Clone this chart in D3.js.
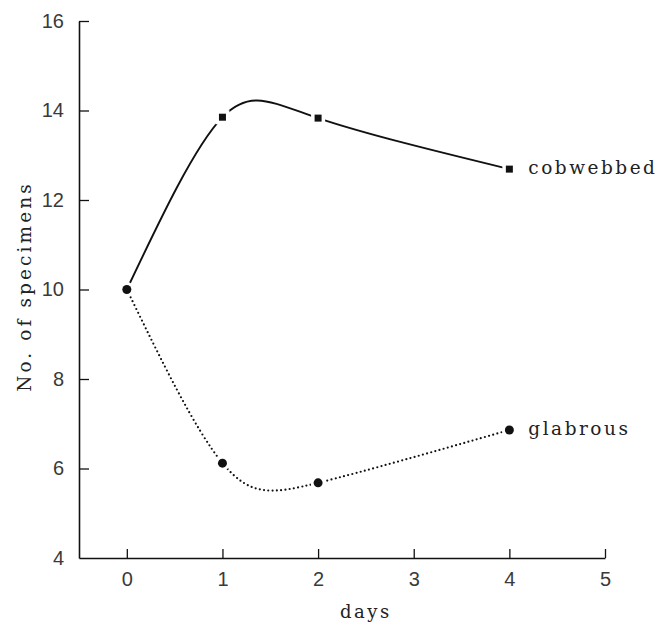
<!DOCTYPE html>
<html>
<head>
<meta charset="utf-8">
<script src="https://cdn.jsdelivr.net/npm/d3@7"></script>
<style>
  html, body { margin: 0; padding: 0; background: #fff; }
  svg { display: block; }
</style>
</head>
<body>
<svg id="chart" width="657" height="627"></svg>
<script>
// ---- data ----
const days = [0, 1, 2, 4];
const cobwebbed = [10, 13.85, 13.83, 12.69];
const glabrous = [10, 6.12, 5.68, 6.86];
const xTicks = [0, 1, 2, 3, 4, 5];
const yTicks = [4, 6, 8, 10, 12, 14, 16];
const seriesNames = ["cobwebbed", "glabrous"];
const xTitle = "days";
const yTitle = "No. of specimens";

const svg = d3.select("#chart");
const x = d3.scaleLinear().domain([-0.5, 5]).range([79, 605]);
const y = d3.scaleLinear().domain([4, 16]).range([558, 21]);

const tickFont = "'Liberation Sans', Arial, sans-serif";
const textFont = "'DejaVu Serif', serif";
const ink = "#111";

// axes
const gx = svg.append("g").attr("transform", `translate(0,${y(4)})`)
  .call(d3.axisBottom(x).tickValues(xTicks).tickFormat(d3.format("d"))
    .tickSizeInner(-9).tickSizeOuter(0).tickPadding(14));
const gy = svg.append("g").attr("transform", `translate(${x(-0.5)},0)`)
  .call(d3.axisLeft(y).tickValues(yTicks).tickFormat(d3.format("d"))
    .tickSizeInner(-10).tickSizeOuter(0).tickPadding(15));

[gx, gy].forEach(g => {
  g.select(".domain").attr("stroke", ink).attr("stroke-width", 1.6);
  g.selectAll(".tick line").attr("stroke", ink).attr("stroke-width", 1.3);
  g.selectAll(".tick text").attr("fill", "#3a3a3a").style("font-family", tickFont).style("font-size", "20px");
});
gy.selectAll(".tick").filter(d => d === 4).select("line").remove();

// axis titles
svg.append("text")
  .attr("x", x(2.5)).attr("y", 618)
  .attr("text-anchor", "middle")
  .style("font-family", textFont).style("font-size", "18px").style("letter-spacing", "2.5px")
  .attr("fill", "#222").text(xTitle);
svg.append("text")
  .attr("transform", `translate(31,${y(10) - 3}) rotate(-90)`)
  .attr("text-anchor", "middle")
  .style("font-family", textFont).style("font-size", "18.5px").style("letter-spacing", "3.1px")
  .attr("fill", "#222").text(yTitle);

// lines
const line = d3.line().x(d => x(d[0])).y(d => y(d[1])).curve(d3.curveNatural);
const cobPts = days.map((d, i) => [d, cobwebbed[i]]);
const glaPts = days.map((d, i) => [d, glabrous[i]]);

svg.append("path").attr("d", line(cobPts))
  .attr("fill", "none").attr("stroke", ink).attr("stroke-width", 1.9);
svg.append("path").attr("d", line(glaPts))
  .attr("fill", "none").attr("stroke", ink).attr("stroke-width", 2.2)
  .attr("stroke-linecap", "round").attr("stroke-dasharray", "0,4.3");

// markers (white halo produces gaps in the lines)
const sq = 7;
svg.append("g").selectAll("rect").data(cobPts.slice(1)).join("rect")
  .attr("x", d => x(d[0]) - sq / 2).attr("y", d => y(d[1]) - sq / 2)
  .attr("width", sq).attr("height", sq)
  .attr("fill", ink).attr("stroke", "#fff").attr("stroke-width", 7)
  .style("paint-order", "stroke");
svg.append("g").selectAll("circle").data(glaPts).join("circle")
  .attr("cx", d => x(d[0])).attr("cy", d => y(d[1])).attr("r", 4.5)
  .attr("fill", ink).attr("stroke", "#fff").attr("stroke-width", 6)
  .style("paint-order", "stroke");

// series labels
const lastIdx = days.length - 1;
[[seriesNames[0], cobwebbed[lastIdx]], [seriesNames[1], glabrous[lastIdx]]].forEach(([name, v]) => {
  svg.append("text")
    .attr("x", x(days[lastIdx]) + 19).attr("y", y(v) + 5)
    .style("font-family", textFont).style("font-size", "18.5px").style("letter-spacing", "2.5px")
    .attr("fill", "#222").text(name);
});
</script>
</body>
</html>
